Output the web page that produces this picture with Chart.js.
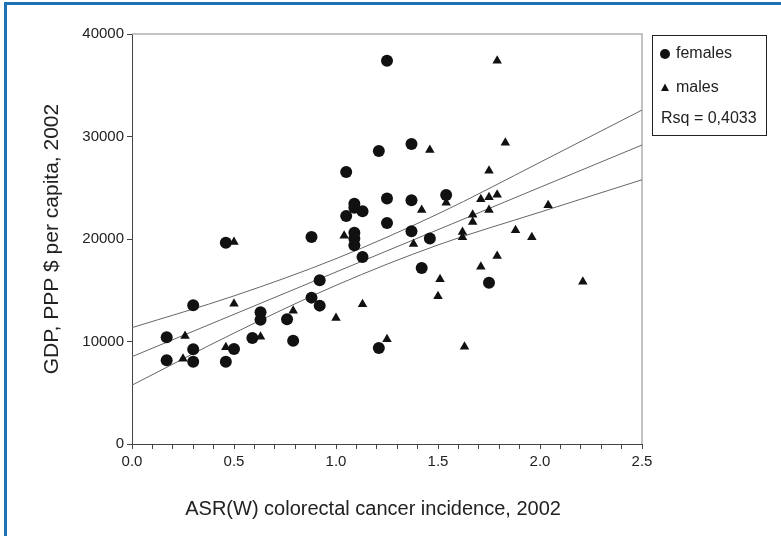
<!DOCTYPE html>
<html>
<head>
<meta charset="utf-8">
<script src="https://cdn.jsdelivr.net/npm/chart.js@4.4.0/dist/chart.umd.min.js"></script>
<style>
  html, body { margin: 0; padding: 0; background: #fff; overflow: hidden; }
  #frame { position: absolute; left: 4px; top: 2px; width: 900px; height: 700px; border: 3px solid #1c72b5; }
  #wrap { position: absolute; left: 0; top: 0; width: 781px; height: 536px; }
</style>
</head>
<body>
<div id="frame"></div>
<div id="wrap"><canvas id="myChart" width="781" height="536"></canvas></div>
<script>
// ---------------------------DATA---------------------------
var femalesX = [1.25, 1.21, 1.05, 1.25, 1.09, 1.09, 1.13, 1.05, 1.25, 1.37, 1.37, 1.54, 1.37, 1.46, 1.42, 1.75, 1.21,
  0.46, 0.88, 1.09, 1.09, 1.09, 1.13, 0.92, 0.30, 0.88, 0.92, 0.63, 0.63, 0.76, 0.79, 0.17, 0.59, 0.30, 0.50, 0.17, 0.30, 0.46];
var femalesY = [37400, 28580, 26540, 23950, 23450, 23050, 22700, 22240, 21560, 29270, 23770, 24290, 20750, 20050, 17170, 15740, 9370,
  19640, 20190, 20610, 20060, 19380, 18240, 15970, 13530, 14280, 13500, 12850, 12130, 12170, 10080, 10410, 10340, 9240, 9270, 8170, 8030, 8030];

var malesX = [1.79, 1.46, 1.83, 1.75, 1.54, 1.42, 1.71, 1.75, 1.79, 1.75, 1.67, 1.67, 2.04, 1.62, 1.62, 1.88, 1.96, 1.38,
  1.79, 1.71, 1.51, 2.21, 1.50, 1.25, 1.63, 0.50, 1.04, 0.50, 1.13, 0.79, 1.00, 0.26, 0.63, 0.46, 0.25];
var malesY = [37400, 28680, 29400, 26670, 23540, 22830, 23870, 24070, 24320, 22830, 22370, 21660, 23290, 20680, 20160, 20850, 20170, 19510,
  18340, 17300, 16070, 15840, 14410, 10210, 9490, 19710, 20320, 13690, 13630, 13010, 12290, 10540, 10470, 9430, 8320];

// fit line and its band, read at these x positions
var fitX = [0, 0.5, 1.0, 1.5, 2.0, 2.5];
var fitMid = [8520, 12650, 16780, 20910, 25040, 29170];
var fitUpper = [11350, 14450, 18080, 22450, 27480, 32580];
var fitLower = [5740, 10820, 15480, 19420, 22620, 25780];

var yTicks = [0, 10000, 20000, 30000, 40000];
var xLabels = ["0.0", "0.5", "1.0", "1.5", "2.0", "2.5"];
var rsqText = "Rsq = 0,4033";

function pts(xs, ys) {
  return xs.map(function (x, i) { return { x: x, y: ys[i] }; });
}

var FONT = "'Liberation Sans', Arial, sans-serif";

function fitLine(ys) {
  return {
    data: pts(fitX, ys),
    showLine: true,
    pointRadius: 0,
    borderColor: "#666",
    borderWidth: 1,
    cubicInterpolationMode: "monotone",
    fill: false
  };
}

// top / right box lines + legend box
var boxPlugin = {
  id: "boxPlugin",
  beforeDatasetsDraw: function (chart) {
    var a = chart.chartArea, c = chart.ctx;
    c.save();
    c.strokeStyle = "#b0b0b0";
    c.lineWidth = 1.5;
    c.beginPath();
    c.moveTo(a.left, a.top);
    c.lineTo(a.right, a.top);
    c.lineTo(a.right, a.bottom);
    c.stroke();
    c.restore();
  },
  afterDraw: function (chart) {
    var c = chart.ctx;
    c.save();
    c.strokeStyle = "#222";
    c.lineWidth = 1;
    c.strokeRect(652.5, 35.5, 114, 100);
    c.fillStyle = "#111";
    c.beginPath();
    c.arc(665, 54, 5, 0, Math.PI * 2);
    c.fill();
    c.beginPath();
    c.moveTo(665, 83.5);
    c.lineTo(669, 91);
    c.lineTo(661, 91);
    c.closePath();
    c.fill();
    c.fillStyle = "#222";
    c.font = "16px " + FONT;
    c.textBaseline = "middle";
    c.fillText("females", 676, 54);
    c.fillText("males", 676, 88);
    c.fillText(rsqText, 661, 119);
    c.restore();
  }
};

new Chart("myChart", {
  type: "scatter",
  data: {
    datasets: [{
      label: "females",
      data: pts(femalesX, femalesY),
      pointStyle: "circle",
      pointRadius: 6,
      backgroundColor: "#111",
      borderColor: "#111",
      borderWidth: 0
    }, {
      label: "males",
      data: pts(malesX, malesY),
      pointStyle: "triangle",
      pointRadius: 5.5,
      backgroundColor: "#111",
      borderColor: "#111",
      borderWidth: 0
    },
      fitLine(fitUpper),
      fitLine(fitMid),
      fitLine(fitLower)
    ]
  },
  options: {
    responsive: false,
    animation: false,
    layout: { padding: { top: 34, right: 139, left: 0, bottom: 0 } },
    plugins: {
      legend: { display: false },
      tooltip: { enabled: false }
    },
    scales: {
      x: {
        type: "linear",
        min: 0,
        max: 2.5,
        afterFit: function (s) { s.height = 92; },
        grid: { drawOnChartArea: false, tickLength: 5, tickColor: "#444" },
        border: { color: "#444", width: 1 },
        ticks: {
          stepSize: 0.1,
          autoSkip: false,
          maxRotation: 0,
          padding: 4,
          color: "#222",
          font: { family: FONT, size: 15 },
          callback: function (v) {
            var k = Math.round(v * 2);
            return Math.abs(v * 2 - k) < 1e-6 ? xLabels[k] : "";
          }
        },
        title: {
          display: true,
          // trailing spaces nudge the centred title a little left, as in the original
          text: "ASR(W) colorectal cancer incidence, 2002     ",
          color: "#222",
          font: { family: FONT, size: 20 },
          padding: { bottom: 15 }
        }
      },
      y: {
        type: "linear",
        min: 0,
        max: 40000,
        afterFit: function (s) { s.width = 132; },
        afterBuildTicks: function (s) { s.ticks = yTicks.map(function (v) { return { value: v }; }); },
        grid: { drawOnChartArea: false, tickLength: 5, tickColor: "#444" },
        border: { color: "#444", width: 1 },
        ticks: {
          padding: 3,
          color: "#222",
          font: { family: FONT, size: 15 },
          callback: function (v) { return String(v); }
        },
        title: {
          display: true,
          text: "GDP, PPP $ per capita, 2002",
          color: "#222",
          font: { family: FONT, size: 21 },
          padding: { top: 40 }
        }
      }
    }
  },
  plugins: [boxPlugin]
});
</script>
</body>
</html>
